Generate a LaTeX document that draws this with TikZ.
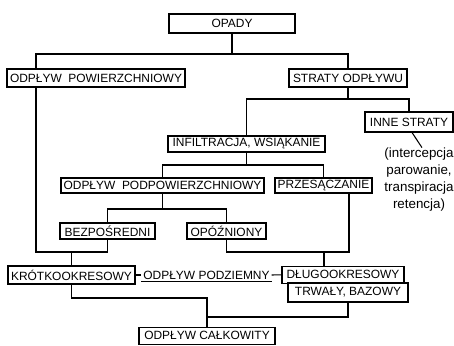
\documentclass[tikz,border=0pt]{standalone}
\usepackage{fontspec}
\setmainfont{Liberation Sans}
\usepackage{tikz}

\begin{document}
\begin{tikzpicture}[x=0.2mm, y=-0.2mm,
        box/.style={draw, rectangle, line width=0.6pt, inner sep=1pt,
            font=\fontsize{6.8}{8}\selectfont},
        link/.style={line width=0.6pt}]
                \useasboundingbox (0,0) rectangle (454,345);

                % Boxes
                \node[box, minimum width=25.2mm, minimum height=3.8mm] (opady) at (232, 23.5) {OPADY};
                \node[box, minimum width=35.6mm, minimum height=3.6mm] (powierzchniowy) at (96, 78) {ODPŁYW~~POWIERZCHNIOWY};
                \node[box, minimum width=23.6mm, minimum height=3.6mm] (straty) at (348, 78) {STRATY ODPŁYWU};
                \node[box, minimum width=17.6mm, minimum height=4mm] (inne) at (409, 122) {INNE STRATY};
                \node[box, minimum width=31.4mm, minimum height=3.2mm] (infiltracja) at (246.5, 144) {INFILTRACJA, WSIĄKANIE};
                \node[box, minimum width=40.6mm, minimum height=3mm] (podpow) at (162.5, 185.5) {ODPŁYW~~PODPOWIERZCHNIOWY};
                \node[box, minimum width=19.4mm, minimum height=3mm] (przes) at (323.5, 185.5) {PRZESĄCZANIE};
                \node[box, minimum width=19mm, minimum height=3.2mm] (bezp) at (107.5, 231) {BEZPOŚREDNI};
                \node[box, minimum width=15.8mm, minimum height=3.2mm] (opoz) at (226.5, 231) {OPÓŹNIONY};
                \node[box, minimum width=25.4mm, minimum height=3.6mm] (krotko) at (71.5, 275) {KRÓTKOOKRESOWY};
                \node[box, minimum width=24.4mm, minimum height=3.5mm] (dlugo) at (343, 274.8) {DŁUGOOKRESOWY};
                \node[box, minimum width=24mm, minimum height=3.8mm] (trwaly) at (348, 292.5) {TRWAŁY, BAZOWY};
                \node[box, minimum width=27.2mm, minimum height=3.5mm] (calk) at (207, 335.8) {ODPŁYW CAŁKOWITY};

                % Underground runoff between the two boxes
                \node[inner sep=1pt, font=\fontsize{6.8}{8}\selectfont] (podziemny) at (206.5, 275) {ODPŁYW PODZIEMNY};
                \draw[link] (podziemny.south west) -- (podziemny.south east);
                \draw[link] (krotko.east) -- (podziemny.west);
                \draw[link] (podziemny.east) -- (dlugo.west);

                % Note under the other losses
                \node[align=center, inner sep=0pt, font=\fontsize{7.6}{9.6}\selectfont] (note) at (419, 179.5)
                    {(intercepcja\\parowanie,\\transpiracja\\retencja)};
                \draw[link] ([xshift=0.6mm]inne.south) -- ([xshift=0.6mm]note.north);

                % Rails and trunks
                \coordinate (r1) at (0, 54);
                \coordinate (r2) at (0, 99);
                \coordinate (r3) at (0, 165);
                \coordinate (r4) at (0, 209);
                \coordinate (r5) at (0, 252);
                \coordinate (r6) at (0, 298);
                \coordinate (r7) at (0, 317);
                \coordinate (lft) at (36, 0);
                \coordinate (mid) at (324, 0);
                \coordinate (rgt) at (349, 0);

                % Split of precipitation
                \draw[link] (opady) |- (straty |- r1) -- (straty);
                \draw[link] (opady) |- (lft |- r1) -- (lft |- powierzchniowy.north);

                % Losses
                \draw[link] (straty) |- (inne |- r2) -- (inne);
                \draw[link] (straty) |- (infiltracja |- r2) -- (infiltracja);

                % Infiltration
                \draw[link] (infiltracja) |- (podpow |- r3) -- (podpow);
                \draw[link] (infiltracja) |- (przes |- r3) -- (przes);
                \draw[link] (podpow) |- (bezp |- r4) -- (bezp);
                \draw[link] (podpow) |- (opoz |- r4) -- (opoz);

                % Short-term flow
                \draw[link] (lft |- powierzchniowy.south) |- (bezp |- r5) -- (bezp);
                \draw[link] (krotko) -- (krotko |- r5);

                % Long-term flow
                \draw[link] (opoz) |- (rgt |- r5) -- (rgt |- przes.south);
                \draw[link] (mid |- r5) -- (mid |- dlugo.north);

                % Total runoff
                \draw[link] (krotko) |- (calk |- r6) -- (calk);
                \draw[link] (trwaly) |- (calk |- r7);
            \end{tikzpicture}
\end{document}
